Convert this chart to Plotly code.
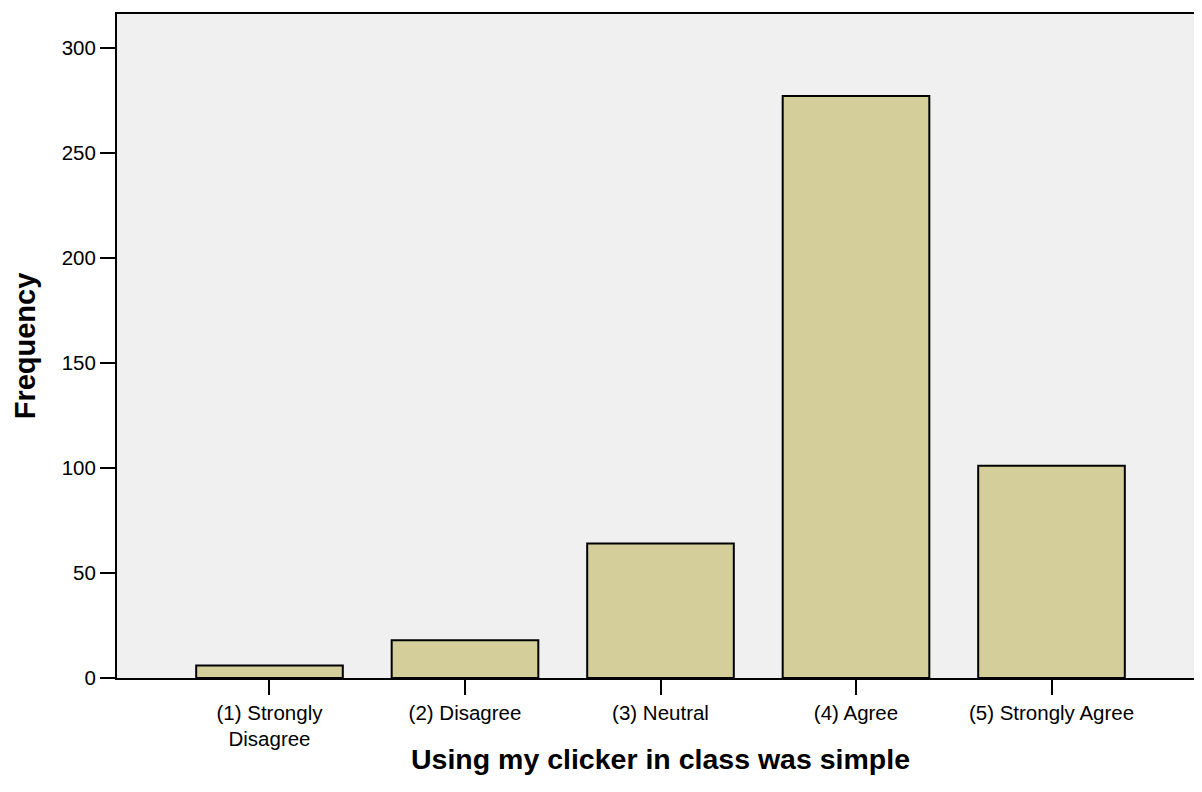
import plotly.graph_objects as go

# survey answers and how many students gave each one
categories = ["(1) Strongly<br>Disagree", "(2) Disagree", "(3) Neutral",
              "(4) Agree", "(5) Strongly Agree"]
frequency = [6, 18, 64, 277, 101]
y_ticks = [0, 50, 100, 150, 200, 250, 300]

fig = go.Figure()
fig.add_trace(go.Bar(
    x=categories,
    y=frequency,
    width=0.75,
    marker=dict(color="#d3ce9a", line=dict(color="black", width=2)),
    showlegend=False
))

fig.update_layout(
    width=1202, height=792,
    margin=dict(l=109, r=5, t=4, b=122),
    paper_bgcolor="white",
    plot_bgcolor="#f0f0f0",
    font=dict(family="Liberation Sans, Arial, sans-serif", size=20, color="black"),
)

# box round the plot area, ticks only on the left and bottom
fig.update_xaxes(
    range=[-0.78, 4.78],
    showline=True, linecolor="black", linewidth=2, mirror=True,
    ticks="outside", ticklen=15, tickwidth=2, tickcolor="black",
    showgrid=False, zeroline=False,
    tickfont=dict(size=20.5),
    title=dict(text="<b>Using my clicker in class was simple</b>",
               font=dict(size=28.5), standoff=0),
)
fig.update_yaxes(
    range=[0, 316],
    tickvals=y_ticks,
    showline=True, linecolor="black", linewidth=2, mirror=True,
    ticks="outside", ticklen=15, tickwidth=2, tickcolor="black",
    showgrid=False, zeroline=False,
    tickfont=dict(size=20.5),
    title=dict(text="<b>Frequency</b>", font=dict(size=29), standoff=18),
)

fig.write_html("out.html")
